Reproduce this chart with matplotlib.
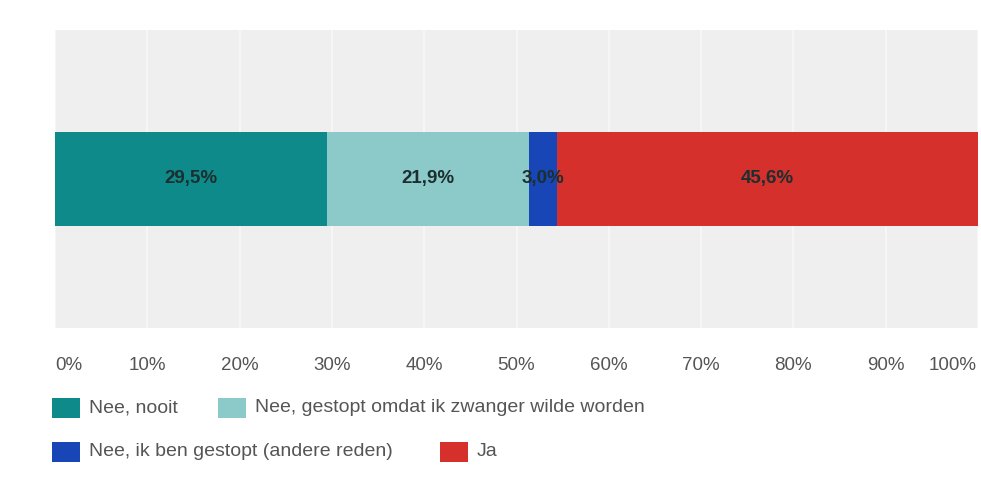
import matplotlib
matplotlib.use("Agg")
import matplotlib.pyplot as plt
from matplotlib.patches import Rectangle

categories = ["Nee, nooit", "Nee, gestopt omdat ik zwanger wilde worden",
              "Nee, ik ben gestopt (andere reden)", "Ja"]
values = [29.5, 21.9, 3.0, 45.6]
value_labels = ["29,5%", "21,9%", "3,0%", "45,6%"]
colors = ["#0f8a8a", "#8ccaca", "#1846b6", "#d5302b"]
tick_values = [0, 10, 20, 30, 40, 50, 60, 70, 80, 90, 100]
tick_labels = ["0%", "10%", "20%", "30%", "40%", "50%", "60%", "70%", "80%", "90%", "100%"]

plt.rcParams['font.family'] = ['Liberation Sans', 'DejaVu Sans']

W, H = 981, 482
fig = plt.figure(figsize=(W / 100, H / 100), dpi=100)
fig.patch.set_facecolor("white")

ax = fig.add_axes([55 / W, 1 - 328 / H, (978 - 55) / W, (328 - 30) / H])
ax.set_facecolor("#efefef")
ax.set_xlim(0, 100)
ax.set_ylim(-0.5, 0.5)
for t in tick_values:
    ax.axvline(t, color="#f8f8f8", lw=1.2, zorder=1)

left = 0
for v, lab, c in zip(values, value_labels, colors):
    ax.barh(0, v, left=left, height=0.315, color=c, zorder=2)
    ax.text(left + v / 2, 0, lab, ha="center", va="center", fontsize=13.5,
            fontweight="bold", color="#1c2f30", zorder=3)
    left += v

for s in ax.spines.values():
    s.set_visible(False)
ax.set_yticks([])
ax.set_xticks([])

# tick labels
for t, lab in zip(tick_values, tick_labels):
    xp = 55 + (978 - 55) * t / 100
    ha = "center"
    if t == 0:
        ha = "left"
    elif t == 100:
        ha = "right"
        xp = 977
    fig.text(xp / W, 1 - 366 / H, lab, ha=ha, va="center", fontsize=13.5, color="#555555")

# legend
legend_items = [
    (52, 408, 0),
    (218, 408, 1),
    (52, 452, 2),
    (440, 452, 3),
]
for x0, yc, i in legend_items:
    fig.patches.append(Rectangle((x0 / W, 1 - (yc + 10) / H), 28 / W, 20 / H,
                                 transform=fig.transFigure, facecolor=colors[i],
                                 edgecolor="none"))
    fig.text((x0 + 37) / W, 1 - yc / H, categories[i], ha="left", va="center",
             fontsize=14, color="#555555")

fig.savefig("out.png", dpi=100)
